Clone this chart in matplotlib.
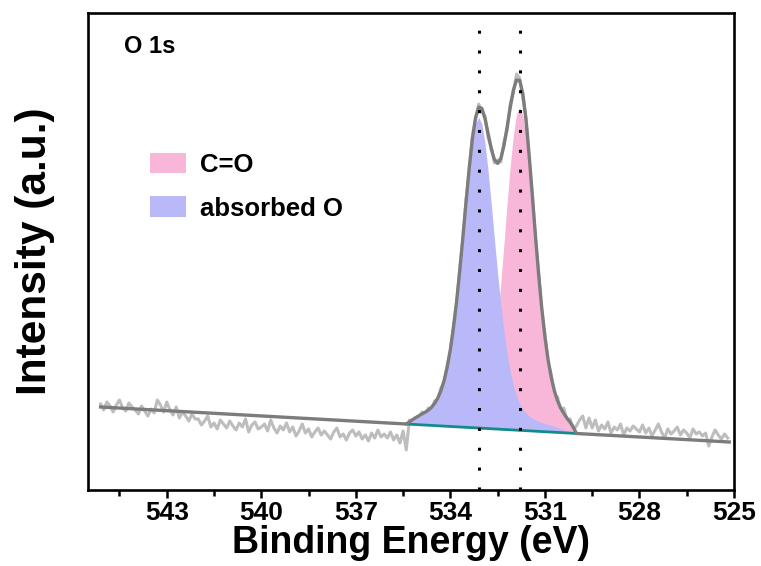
import numpy as np
import matplotlib
matplotlib.use('Agg')
import matplotlib.pyplot as plt
from matplotlib.patches import Patch

plt.rcParams['font.family'] = ['Liberation Sans', 'DejaVu Sans']
plt.rcParams['font.weight'] = 'bold'

# ---- raw spectrum, 0.1 eV steps from 545.1 down to 525.2 eV (a.u.) ----
raw_start, raw_step = 545.1, -0.1
raw_left = [86, 80, 88, 84, 78, 85, 90, 82, 79, 87, 83,
            80, 76, 84, 79, 74, 81, 77, 90, 85, 78,
            88, 80, 75, 83, 72, 78, 74, 69, 76, 71,
            71, 65, 69, 74, 63, 67, 61, 70, 66, 62,
            69, 64, 60, 67, 63, 71, 58, 65, 68, 61,
            63, 66, 59, 70, 62, 57, 64, 60, 67, 58,
            63, 54, 59, 66, 57, 61, 53, 58, 62, 55,
            59, 55, 51, 58, 62, 53, 56, 50, 57, 60,
            54, 58, 51, 55, 49, 57, 52, 60, 53, 56,
            52, 58, 50, 55, 47, 59]
raw_peak = [40, 70, 66, 72, 70, 78, 74, 82, 80, 89,
            90, 102, 107, 125, 139, 165, 187, 222, 251, 291,
            320, 354, 370, 386, 378, 374, 352, 343, 327, 330,
            328, 348, 360, 386, 398, 416, 412, 392, 373, 331,
            297, 251, 218, 179, 156, 127, 116, 95, 93, 78,
            82, 69, 71, 60, 64]
raw_right = [70, 74, 62, 72, 62, 70, 59, 65, 61, 68,
             57, 63, 60, 66, 55, 62, 59, 64, 61, 58,
             65, 57, 62, 54, 60, 66, 58, 52, 61, 56,
             59, 63, 55, 60, 57, 52, 61, 56, 58, 54,
             57, 44, 53, 60, 55, 51, 56, 52]
raw_intensity = np.array(raw_left + raw_peak + raw_right, dtype=float)
raw_energy = raw_start + raw_step * np.arange(len(raw_intensity))

# ---- linear background (end points) ----
bg_energy = [545.1, 525.15]
bg_intensity = [83.0, 48.0]

# ---- fitted components on 0.1 eV grid, 535.4 -> 530.0 eV ----
fit_start = 535.4
absorbed_O = [0.0, 2.2, 4.5, 6.6, 8.6, 10.6, 12.4, 14.6, 17.5, 21.6,
              26.9, 34.4, 44.6, 58.3, 76.0, 98.2, 124.8, 155.5, 189.2, 223.9,
              257.1, 285.1, 304.2, 311.0,
              304.2, 285.1, 257.1, 223.9, 189.2, 155.5, 124.8, 98.2, 76.0, 58.3,
              44.6, 34.4, 26.9, 21.6,
              17.7, 14.9, 12.8, 11.3, 10.0, 9.0, 8.2, 7.5, 6.9, 6.0,
              5.0, 4.0, 3.0, 2.2, 1.4, 0.7, 0.0]
c_eq_o = [0.0, 0.1, 0.2, 0.3, 0.3, 0.4, 0.5, 0.5, 0.6, 0.6,
          0.7, 0.8, 0.8, 0.9, 1.0, 1.1,
          1.2, 1.3, 1.7, 2.1, 2.8, 4.1, 6.2, 9.9, 15.6, 24.5,
          37.5, 55.7, 79.9, 110.2, 146.0, 185.6, 226.2, 264.1, 295.2, 315.8,
          323.0,
          315.1, 292.9, 260.6, 222.9, 184.0, 147.2, 114.4, 86.8, 64.8,
          47.9, 35.5, 26.7, 20.6, 16.3, 12.5, 9.5, 5.5, 0.0]
fit_energy = fit_start - 0.1 * np.arange(len(absorbed_O))

peak_positions = [533.1, 531.8]
labels = ['C=O', 'absorbed O']
pink = '#F8B6D8'
blue = '#B9B9FA'

# background under the fit window (straight line)
bg_fit = np.interp(fit_energy, bg_energy[::-1], bg_intensity[::-1])
blue_top = bg_fit + np.array(absorbed_O)
pink_top = bg_fit + np.array(c_eq_o)
envelope = bg_fit + np.array(absorbed_O) + np.array(c_eq_o)
env_x = np.concatenate([[bg_energy[0]], fit_energy, [bg_energy[1]]])
env_y = np.concatenate([[bg_intensity[0]], envelope, [bg_intensity[1]]])

fig = plt.figure(figsize=(7.61, 5.66), dpi=100)
ax = fig.add_axes([0.1156, 0.1343, 0.8489, 0.8427])

ax.plot(raw_energy, raw_intensity, color='#BDBDBD', lw=2.2, zorder=1)
ax.fill_between(fit_energy, bg_fit, pink_top, color=pink, lw=0, zorder=2)
ax.fill_between(fit_energy, bg_fit, blue_top, color=blue, lw=0, zorder=3)
ax.plot(fit_energy, bg_fit, color='#138A8C', lw=2.0, zorder=4)
ax.plot(env_x, env_y, color='#7C7C7C', lw=2.4, zorder=5)
for p in peak_positions:
    ax.axvline(p, color='black', lw=2.2, ls=(0, (1, 5.5)), zorder=6)

ax.set_xlim(545.5, 525)
ax.set_ylim(0, 477)
ax.set_xticks([543, 540, 537, 534, 531, 528, 525])
ax.set_xticks(np.arange(544.5, 525, -3), minor=True)
ax.set_yticks([])
ax.tick_params(axis='x', which='major', direction='out', length=6, width=1.8,
               labelsize=19, pad=2)
ax.tick_params(axis='x', which='minor', direction='out', length=4, width=1.8)
for lab in ax.get_xticklabels():
    lab.set_fontweight('bold')
for s in ax.spines.values():
    s.set_linewidth(1.9)

ax.set_xlabel('Binding Energy (eV)', fontsize=27, fontweight='bold', labelpad=0)
ax.set_ylabel('Intensity (a.u.)', fontsize=30.5, fontweight='bold', labelpad=24)

ax.text(0.055, 0.93, 'O 1s', transform=ax.transAxes, fontsize=17,
        fontweight='bold', va='center', ha='left')

handles = [Patch(facecolor=pink, edgecolor='none'), Patch(facecolor=blue, edgecolor='none')]
ax.legend(handles, labels, loc='upper left', bbox_to_anchor=(0.06, 0.755),
          frameon=False, handlelength=1.4, handleheight=0.85,
          handletextpad=0.55, labelspacing=0.75, prop={'weight': 'bold', 'size': 18.5})

fig.savefig('out.png', dpi=100)
